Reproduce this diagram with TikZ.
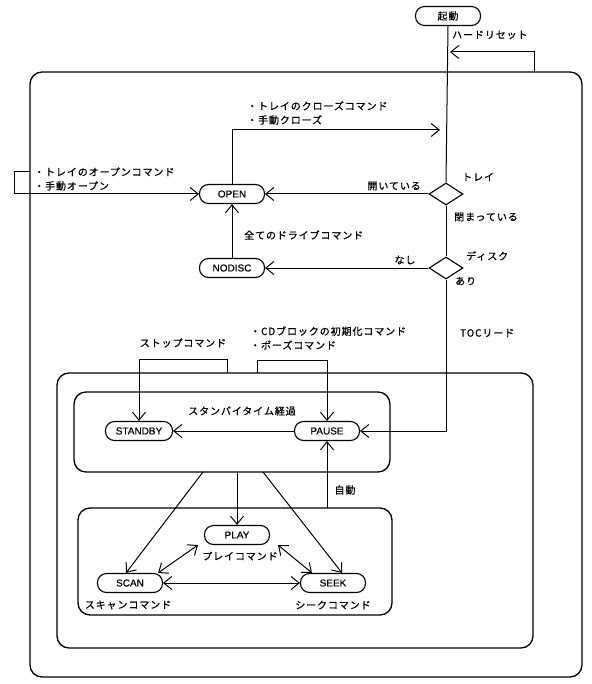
\documentclass[tikz,border=0pt]{standalone}
\usepackage{fontspec}
\setmainfont[FakeBold=0.4]{Liberation Sans}
\newfontfamily\jp[LetterSpace=9,FakeBold=0.8]{Noto Sans CJK JP}
\usetikzlibrary{arrows.meta,shapes.geometric}
\tikzset{
  state/.style={draw, line width=1.1pt, rounded corners=9pt, minimum height=19pt, minimum width=65pt, inner sep=2pt, font=\fontsize{10}{12}\selectfont},
  dia/.style={draw, line width=1.1pt, diamond, aspect=1.55, minimum width=34pt, minimum height=22pt, inner sep=0pt},
  lab/.style={font=\jp\fontsize{10}{14}\selectfont, inner sep=0pt, align=left},
  conn/.style={line width=1pt},
  arr/.style={conn, -{Straight Barb[length=8pt,width=13pt,line width=1pt]}},
  darr/.style={conn, {Straight Barb[length=8pt,width=13pt,line width=1pt]}-{Straight Barb[length=8pt,width=13pt,line width=1pt]}},
  box/.style={draw, line width=1.3pt, rounded corners=12pt}
}
\begin{document}
\begin{tikzpicture}[x=1pt,y=-1pt]
\useasboundingbox (0,0) rectangle (591,684);
% containers
\draw[box] (30,72) rectangle (582,677);
\draw[box] (57,373) rectangle (533,648);
\draw[box] (74,392) rectangle (390,472);
\draw[box] (78,508) rectangle (392,615);
% states
\node[state] (boot) at (448,16) {\jp 起動};
\node[state] (open) at (232,194) {OPEN};
\node[state] (nodisc) at (232,268) {NODISC};
\node[dia] (tray) at (446,194) {};
\node[dia] (disc) at (446,268) {};
\node[state,minimum width=67pt] (standby) at (139,431) {STANDBY};
\node[state] (pause) at (327,431) {PAUSE};
\node[state] (play) at (237,535) {PLAY};
\node[state] (scan) at (130,583) {SCAN};
\node[state] (seek) at (333,583) {SEEK};
% free-end coordinates
\coordinate (hr) at (534,72);
\coordinate (hrend) at (450,52);
\coordinate (lo) at (30,172);
\coordinate (closeend) at (440,130);
\coordinate (stopst) at (227,373);
\coordinate (pst) at (257,373);
\coordinate (u1) at (203,472);
\coordinate (u2) at (237,472);
\coordinate (u3) at (263,472);
\coordinate (auto) at (327,508);
% connectors
\draw[conn] (boot.south) -- (tray.north);
\draw[arr] (hr) -- (534,52) -- (hrend);
\draw[arr] (lo) -- (14,172) |- (open.west);
\draw[arr] (open.north) |- (closeend);
\draw[arr] (tray.west) -- (open.east);
\draw[conn] (tray.south) -- (disc.north);
\draw[arr] (disc.west) -- (nodisc.east);
\draw[arr] (nodisc.north) -- (open.south);
\draw[arr] (disc.south) |- (pause.east);
\draw[arr] (stopst) -- (227,359) -| (standby.north);
\draw[arr] (pst) -- (257,360) -| (pause.north);
\draw[arr] (pause.west) -- (standby.east);
\draw[arr] (u1) -- ([xshift=-4pt]scan.north);
\draw[arr] (u2) -- (play.north);
\draw[arr] (u3) -- ([xshift=9pt]seek.north);
\draw[arr] (auto) -- (pause.south);
\draw[darr] ([xshift=-5pt]scan.north east) -- ([xshift=-6pt]play.south west);
\draw[darr] ([xshift=8pt]play.south east) -- ([xshift=12pt]seek.north west);
\draw[darr] (scan.east) -- (seek.west);
% labels
\node[lab,anchor=west] (lhr) at (452,35) {ハードリセット};
\node[lab,anchor=west] (lclose) at (247,113) {・トレイのクローズコマンド\\・手動クローズ};
\node[lab,anchor=west] (lopen) at (34,179) {・トレイのオープンコマンド\\・手動オープン};
\node[lab,anchor=east] (lopened) at (421,186) {開いている};
\node[lab,anchor=west] (ltray) at (462,177) {トレイ};
\node[lab,anchor=west] (lclosed) at (454,217) {閉まっている};
\node[lab,anchor=west] (lall) at (244,235) {全てのドライブコマンド};
\node[lab] (lnone) at (405,260) {なし};
\node[lab,anchor=west] (ldisc) at (466,256) {ディスク};
\node[lab,anchor=west] (lyes) at (455,281) {あり};
\node[lab,anchor=west] (ltoc) at (460,333) {TOCリード};
\node[lab] (lstop) at (183,343) {ストップコマンド};
\node[lab,anchor=west] (lcd) at (250,338) {・CDブロックの初期化コマンド\\・ポーズコマンド};
\node[lab] (lsb) at (242,411) {スタンバイタイム経過};
\node[lab] (lauto) at (345,490) {自動};
\node[lab] (lplay) at (240,556) {プレイコマンド};
\node[lab] (lscan) at (128,605) {スキャンコマンド};
\node[lab] (lseek) at (333,605) {シークコマンド};
\end{tikzpicture}
\end{document}
